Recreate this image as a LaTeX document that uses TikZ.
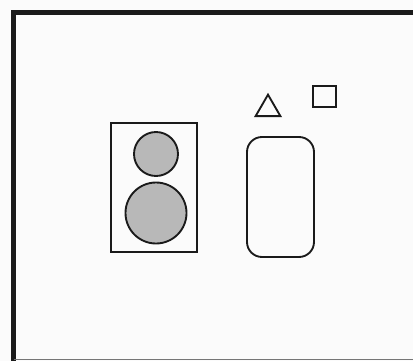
\documentclass[tikz,border=0pt]{standalone}
\usepackage{xcolor}
\usepackage{tikz}
\usetikzlibrary{shapes.geometric, positioning}
\definecolor{ink}{HTML}{1A1A1A}
\definecolor{stipple}{HTML}{B8B8B8}
\definecolor{paper}{HTML}{FBFBFB}

\begin{document}
\begin{tikzpicture}[x=0.03cm, y=-0.03cm,
  frame/.style={line width=4.2pt, color=ink},
  outline/.style={draw=ink, line width=1.6pt, inner sep=0pt},
  ball/.style={outline, circle, fill=stipple},
  tray/.style={outline, rectangle, minimum width=2.58cm, minimum height=3.87cm},
  pill/.style={outline, rectangle, rounded corners=0.45cm, minimum width=2.01cm, minimum height=3.6cm}]

  \fill[paper] (0,0) rectangle (413,361);
  \useasboundingbox (0,0) rectangle (413,361);

  % outer frame
  \draw[frame] (13.5,361) -- (13.5,12.5) -- (413,12.5);
  \draw[line width=1.6pt, color=ink!60] (13.5,359.5) -- (413,359.5);

  % left group
  \node[tray] (box) at (154,187.5) {};
  \node[ball, minimum size=1.32cm] (small) at (156,154) {};
  \node[ball, minimum size=1.83cm] (large) at (156,213) {};

  % right group
  \node[outline, regular polygon, regular polygon sides=3, minimum size=0.86cm] (tri) at (268,109) {};
  \node[outline, rectangle, minimum width=0.68cm, minimum height=0.63cm] (sq) at (324.5,96.5) {};
  \node[pill] (slot) at (280.5,197) {};
\end{tikzpicture}
\end{document}
